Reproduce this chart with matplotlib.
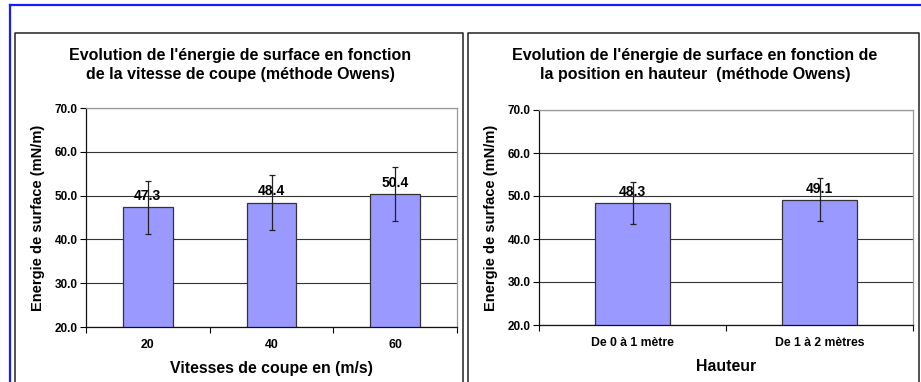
import matplotlib
matplotlib.use("Agg")
import matplotlib.pyplot as plt
from matplotlib.lines import Line2D
import numpy as np

plt.rcParams['font.family'] = ['Liberation Sans', 'DejaVu Sans']
plt.rcParams['font.weight'] = 'bold'

# left chart: cutting speed
vitesses = ['20', '40', '60']
energie_vitesse = [47.3, 48.4, 50.4]
erreur_vitesse = [6.1, 6.3, 6.2]

# right chart: height position
hauteurs = ['De 0 à 1 mètre', 'De 1 à 2 mètres']
energie_hauteur = [48.3, 49.1]
erreur_hauteur = [4.9, 5.0]

titre_gauche = "Evolution de l'énergie de surface en fonction\nde la vitesse de coupe (méthode Owens)"
titre_droite = "Evolution de l'énergie de surface en fonction de\nla position en hauteur  (méthode Owens)"
ylabel = 'Energie de surface (mN/m)'

W, H = 921, 382
fig = plt.figure(figsize=(W / 100, H / 100), dpi=100)
fig.patch.set_facecolor('white')


def fx(px):
    return px / W


def fy(py):
    return 1 - py / H


# blue outer frame
fig.add_artist(Line2D([fx(10), 1.0], [fy(5), fy(5)], color='#1a1aff', lw=1.6))
fig.add_artist(Line2D([fx(10), fx(10)], [fy(5), 0.0], color='#1a1aff', lw=1.6))

# chart panels (left, top, right lines; bottom is cut off)
for x0, x1 in [(15, 463), (468, 919)]:
    fig.add_artist(Line2D([fx(x0), fx(x0), fx(x1), fx(x1)],
                          [0.0, fy(33), fy(33), 0.0], color='#222222', lw=1.1))


def draw(ax, cats, vals, errs, title, xlabel, title_x):
    x = np.arange(len(cats))
    ax.set_axisbelow(True)
    ax.bar(x, vals, width=0.4, color='#9999ff', edgecolor='#333333', lw=0.9, zorder=2)
    ax.errorbar(x, vals, yerr=errs, fmt='none', ecolor='#222222', elinewidth=0.9,
                capsize=2.5, capthick=0.9, zorder=3)
    for xi, v in zip(x, vals):
        ax.annotate('%.1f' % v, (xi, v), xytext=(0, 3), textcoords='offset points',
                    ha='center', va='bottom', fontsize=10, fontweight='bold', zorder=4)
    ax.set_xlim(-0.5, len(cats) - 0.5)
    ax.set_ylim(20, 70)
    ax.set_yticks([20, 30, 40, 50, 60, 70])
    ax.set_yticklabels(['%.1f' % t for t in [20, 30, 40, 50, 60, 70]], fontsize=8.5, fontweight='bold')
    ax.yaxis.grid(True, color='#333333', lw=0.8)
    ax.set_xticks(np.arange(len(cats) + 1) - 0.5)
    ax.set_xticklabels([])
    ax.set_xticks(x, minor=True)
    ax.set_xticklabels(cats, minor=True, fontsize=8.8, fontweight='bold')
    ax.tick_params(axis='x', which='minor', length=0, pad=9)
    ax.tick_params(axis='x', which='major', direction='out', length=4, width=0.8)
    ax.tick_params(axis='y', direction='out', length=4, width=0.8, pad=2)
    for s in ['left', 'bottom']:
        ax.spines[s].set_color('#111111')
        ax.spines[s].set_linewidth(0.9)
    for s in ['top', 'right']:
        ax.spines[s].set_color('#999999')
        ax.spines[s].set_linewidth(0.9)
    ax.set_xlabel(xlabel, fontsize=11.4, fontweight='bold', labelpad=7)
    ax.set_ylabel(ylabel, fontsize=10.5, fontweight='bold', labelpad=7)
    fig.text(fx(title_x), fy(65), title, ha='center', va='center', fontsize=11.5,
             fontweight='bold', linespacing=1.4)


ax1 = fig.add_axes([fx(86), fy(327), fx(457 - 86), (327 - 108) / H])
draw(ax1, vitesses, energie_vitesse, erreur_vitesse, titre_gauche,
     'Vitesses de coupe en (m/s)', 240)

ax2 = fig.add_axes([fx(539), fy(325), fx(913 - 539), (325 - 110) / H])
draw(ax2, hauteurs, energie_hauteur, erreur_hauteur, titre_droite, 'Hauteur', 695)

fig.savefig('out.png', dpi=100)
